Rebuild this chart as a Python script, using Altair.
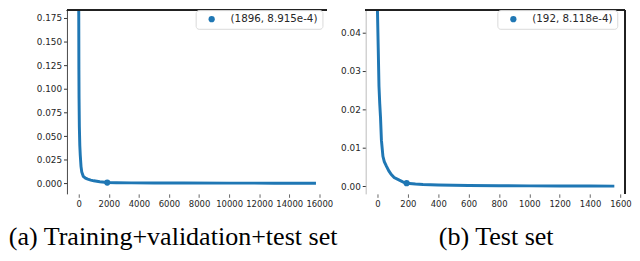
import altair as alt
import pandas as pd

BLUE = "#1f77b4"

# ---- panel (a): training+validation+test set ----
epochs_a = [0, 10, 20, 40, 70, 100, 150, 200, 300, 450, 600, 800, 1000, 1400,
            1896, 2500, 3500, 5000, 7000, 10000, 13000, 15680]
loss_a = [0.182, 0.12, 0.09, 0.06, 0.04, 0.03, 0.018, 0.012, 0.0075, 0.0055,
          0.0045, 0.0035, 0.0027, 0.0017, 0.00089, 0.0007, 0.00055, 0.00045,
          0.00035, 0.00028, 0.00022, 0.0002]
best_a = (1896, 8.915e-4)
label_a = "(1896, 8.915e-4)"
xticks_a = [0, 2000, 4000, 6000, 8000, 10000, 12000, 14000, 16000]
yticks_a = [0.0, 0.025, 0.05, 0.075, 0.1, 0.125, 0.15, 0.175]
caption_a = "(a) Training+validation+test set"

# ---- panel (b): test set ----
epochs_b = [0, 5, 10, 15, 20, 26, 36, 45, 58, 75, 90, 110, 144, 170, 192, 250,
            300, 400, 600, 800, 1000, 1200, 1400, 1550]
loss_b = [0.0456, 0.036, 0.026, 0.0215, 0.018, 0.012, 0.0078, 0.0064, 0.0053,
          0.004, 0.0031, 0.0023, 0.0016, 0.0011, 0.00081, 0.0006, 0.00048,
          0.00034, 0.00022, 0.00015, 0.00011, 0.00008, 0.00006, 0.00005]
best_b = (192, 8.118e-4)
label_b = "(192, 8.118e-4)"
xticks_b = [0, 200, 400, 600, 800, 1000, 1200, 1400, 1600]
yticks_b = [0.0, 0.01, 0.02, 0.03, 0.04]
caption_b = "(b) Test set"

H = 187


def panel(epochs, loss, best, label, xdom, xticks, ydom, yticks, yfmt, width,
          caption, cap_dx, leg_x, ydomain_color, right_spine, y_extent):
    df = pd.DataFrame({"epoch": epochs, "loss": loss})
    bdf = pd.DataFrame({"epoch": [best[0]], "loss": [best[1]], "label": [label]})
    xs = alt.Scale(domain=xdom, nice=False, zero=False)
    ys = alt.Scale(domain=ydom, nice=False, zero=False)
    xax = alt.Axis(values=xticks, format="d", grid=False, domain=False,
                   tickColor="#666", tickSize=3.5, labelFontSize=8.6,
                   labelFont="DejaVu Sans", labelColor="#262626", labelPadding=2,
                   labelFlush=False, labelOverlap=False, title=None)
    yax = alt.Axis(values=yticks, format=yfmt, grid=False, domainColor=ydomain_color,
                   tickColor="#333", tickSize=3.5, labelFontSize=9,
                   labelFont="DejaVu Sans", labelColor="#262626", labelPadding=2,
                   labelOverlap=False, labelFlush=False,
                   title=None, minExtent=y_extent, maxExtent=y_extent)
    line = alt.Chart(df).mark_line(color=BLUE, strokeWidth=3, strokeCap="square").encode(
        x=alt.X("epoch:Q", scale=xs, axis=xax),
        y=alt.Y("loss:Q", scale=ys, axis=yax),
    )
    pt = alt.Chart(bdf).mark_point(filled=True, shape="circle", size=40, opacity=1).encode(
        x=alt.X("epoch:Q", scale=xs, axis=xax),
        y=alt.Y("loss:Q", scale=ys, axis=yax),
        color=alt.Color("label:N", scale=alt.Scale(range=[BLUE]),
                        legend=alt.Legend(orient="none", legendX=leg_x, legendY=0,
                                          title=None, fillColor="white",
                                          strokeColor="#d9d9d9", cornerRadius=3,
                                          padding=4, symbolType="circle",
                                          symbolSize=40, symbolStrokeWidth=0,
                                          symbolOffset=7, labelOffset=14,
                                          labelFont="DejaVu Sans", labelFontSize=10.5,
                                          labelColor="#262626")),
    )
    top = alt.Chart(df).mark_rule(color="#222", strokeWidth=1.2).encode(
        x=alt.value(0), x2=alt.value(width), y=alt.value(0))
    layers = [line, pt, top]
    if right_spine:
        layers.append(alt.Chart(df).mark_rule(color="#222", strokeWidth=1.2).encode(
            x=alt.value(width), y=alt.value(0), y2=alt.value(H)))
    return alt.layer(*layers).properties(
        width=width, height=H,
        title=alt.TitleParams(caption, orient="bottom", anchor="middle", frame="group",
                              dx=cap_dx, offset=38, font="Liberation Serif",
                              fontSize=26.5, fontWeight="normal", color="black",
                              baseline="alphabetic"),
    )


pa = panel(epochs_a, loss_a, best_a, label_a, [-784, 16471], xticks_a,
           [-0.0111, 0.1831], yticks_a, ".3f", 264, caption_a, -24, 131,
           "#444", False, 54)
pb = panel(epochs_b, loss_b, best_b, label_b, [-77.5, 1627.5], xticks_b,
           [-0.00197, 0.0458], yticks_b, ".2f", 263.5, caption_b, 1, 134,
           "#bbb", True, 30)

chart = alt.hconcat(pa, pb, spacing=40, bounds="flush").resolve_scale(
    color="independent").resolve_legend(color="independent").properties(
    padding={"left": 0, "top": -6, "right": 0, "bottom": 0}
).configure_view(stroke=None).configure_axis(labelOverlap=False)

chart.save("out.html", embed_options={"renderer": "svg", "actions": False})
